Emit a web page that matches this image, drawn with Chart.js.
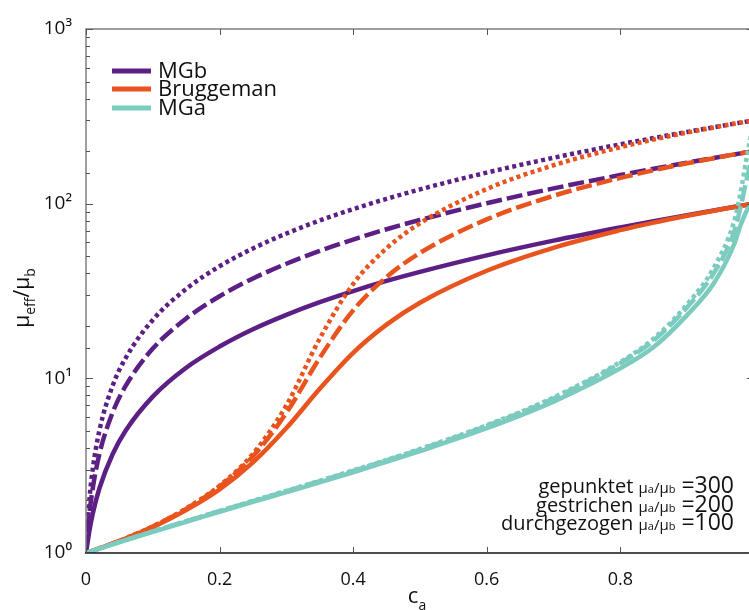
<!DOCTYPE html>
<html>
<head>
<meta charset="utf-8">
<script src="https://cdn.jsdelivr.net/npm/chart.js@4/dist/chart.umd.min.js"></script>
<style>
  html, body { margin: 0; padding: 0; overflow: hidden; background: #fff; }
  #wrap { width: 767px; height: 610px; }
</style>
</head>
<body>
<div id="wrap"><canvas id="effChart"></canvas></div>
<script>
// volume fraction c_a
const cValues = [0, 0.005, 0.01, 0.02, 0.04, 0.06, 0.1, 0.15, 0.2, 0.25, 0.3, 0.35, 0.4, 0.45, 0.5,
                 0.6, 0.7, 0.8, 0.85, 0.9, 0.94, 0.97, 0.98, 0.99, 1];

// MGb
const mgb300 = [1, 2.0, 3.0, 5.02, 9.09, 13.2, 21.6, 32.5, 43.8, 55.4, 67.5, 80.1, 93.1, 106.6, 120.7,
                150.6, 183.1, 218.6, 237.5, 257.4, 273.9, 286.8, 291.1, 295.5, 300];
const mgb200 = [1, 1.67, 2.33, 3.68, 6.39, 9.14, 14.8, 22.0, 29.5, 37.3, 45.3, 53.7, 62.3, 71.4, 80.7,
                100.6, 122.3, 145.8, 158.4, 171.6, 182.7, 191.2, 194.1, 197.0, 200];
const mgb100 = [1, 1.33, 1.67, 2.34, 3.69, 5.06, 7.86, 11.5, 15.2, 19.1, 23.1, 27.3, 31.6, 36.1, 40.7,
                50.6, 61.4, 73.1, 79.4, 85.9, 91.4, 95.6, 97.1, 98.5, 100];

// Bruggeman
const brg300 = [1, 1.015, 1.03, 1.063, 1.135, 1.218, 1.42, 1.80, 2.43, 3.70, 7.0, 16.9, 34.7, 55.5, 77.2,
                121.3, 165.9, 210.5, 232.9, 255.2, 273.1, 286.6, 291.1, 295.5, 300];
const brg200 = [1, 1.015, 1.03, 1.063, 1.135, 1.215, 1.42, 1.79, 2.40, 3.58, 6.34, 13.1, 24.5, 38.0, 52.2,
                81.3, 110.9, 140.5, 155.4, 170.2, 182.1, 191.1, 194.1, 197.0, 200];
const brg100 = [1, 1.015, 1.03, 1.062, 1.132, 1.21, 1.405, 1.76, 2.31, 3.30, 5.19, 8.71, 14.0, 20.3, 27.1,
                41.3, 55.9, 70.5, 77.9, 85.2, 91.1, 95.6, 97.1, 98.5, 100];

// MGa
const mga300 = [1, 1.015, 1.03, 1.061, 1.124, 1.189, 1.33, 1.52, 1.74, 1.99, 2.27, 2.59, 2.97, 3.41, 3.94,
                5.39, 7.77, 12.4, 16.9, 26.5, 43, 78, 115, 190, 300];
const mga200 = [1, 1.015, 1.03, 1.06, 1.123, 1.188, 1.33, 1.52, 1.74, 1.98, 2.26, 2.58, 2.95, 3.39, 3.91,
                5.34, 7.67, 12.2, 16.5, 25.5, 40, 68, 95, 142, 200];
const mga100 = [1, 1.015, 1.029, 1.059, 1.121, 1.186, 1.32, 1.51, 1.72, 1.96, 2.23, 2.54, 2.90, 3.33, 3.83,
                5.18, 7.36, 11.4, 15.1, 23, 35, 58, 75, 92, 100];

const xTickLabels = ["0", "0.2", "0.4", "0.6", "0.8", "1"];
const yTickLabels = ["10\u2070", "10\u00b9", "10\u00b2", "10\u00b3"];
const legendNames = ["MGb", "Bruggeman", "MGa"];
const noteLines = [["gepunktet ", "=300"], ["gestrichen ", "=200"], ["durchgezogen ", "=100"]];

const purple = "#5c1f85";
const orange = "#e9531d";
const teal = "#7ccbbf";
const FONT = "'Open Sans', 'DejaVu Sans', sans-serif";

const dotted = [4, 3.4];
const dashed = [16, 5];

function pts(values) {
  return cValues.map(function (c, i) { return { x: c, y: values[i] }; });
}

function line(values, color, dash) {
  return {
    data: pts(values),
    borderColor: color,
    borderWidth: 4.5,
    borderDash: dash,
    borderCapStyle: "butt",
    pointRadius: 0,
    fill: false,
    cubicInterpolationMode: "monotone"
  };
}

// first dataset is drawn on top
const datasets = [
  line(mga100, teal, []),
  line(mga200, teal, dashed),
  line(mga300, teal, dotted),
  line(brg100, orange, []),
  line(brg200, orange, dashed),
  line(brg300, orange, dotted),
  line(mgb100, purple, []),
  line(mgb200, purple, dashed),
  line(mgb300, purple, dotted)
];

function drawRich(ctx, parts, x, y, align) {
  let total = 0;
  parts.forEach(function (p) {
    ctx.font = p.size + "px " + FONT;
    p.w = ctx.measureText(p.t).width;
    total += p.w;
  });
  let cx = align === "right" ? x - total : (align === "center" ? x - total / 2 : x);
  parts.forEach(function (p) {
    ctx.font = p.size + "px " + FONT;
    ctx.fillText(p.t, cx, y + (p.dy || 0));
    cx += p.w;
  });
}

const framePlugin = {
  id: "frame",
  afterDatasetsDraw: function (chart) {
    const ctx = chart.ctx;
    const a = chart.chartArea;
    const xs = chart.scales.x;
    const ys = chart.scales.y;
    ctx.save();
    ctx.lineWidth = 1.5;
    ctx.strokeStyle = "#808080";
    ctx.beginPath();
    ctx.moveTo(a.left, a.bottom);
    ctx.lineTo(a.left, a.top);
    ctx.lineTo(a.right, a.top);
    ctx.lineTo(a.right, a.bottom);
    ctx.stroke();
    ctx.strokeStyle = "#111";
    ctx.beginPath();
    ctx.moveTo(a.left - 1, a.bottom);
    ctx.lineTo(a.right, a.bottom);
    ctx.stroke();

    // x ticks, inward at bottom and top
    ctx.lineWidth = 1;
    ctx.strokeStyle = "#555";
    ctx.beginPath();
    xs.ticks.forEach(function (t) {
      const px = Math.round(xs.getPixelForValue(t.value)) + 0.5;
      ctx.moveTo(px, a.bottom);
      ctx.lineTo(px, a.bottom - 6);
      ctx.moveTo(px, a.top);
      ctx.lineTo(px, a.top + 6);
    });
    // y ticks, major and minor, inward at left and right
    ys.ticks.forEach(function (t) {
      const e = Math.log10(t.value);
      const major = Math.abs(e - Math.round(e)) < 1e-9;
      const len = major ? 7 : 4;
      const py = Math.round(ys.getPixelForValue(t.value)) + 0.5;
      ctx.moveTo(a.left, py);
      ctx.lineTo(a.left + len, py);
      ctx.moveTo(a.right, py);
      ctx.lineTo(a.right - len, py);
    });
    ctx.stroke();
    ctx.restore();
  },
  afterDraw: function (chart) {
    const ctx = chart.ctx;
    ctx.save();

    // legend
    const colors = [purple, orange, teal];
    const rowsY = [71, 89, 108];
    ctx.lineWidth = 5;
    ctx.textBaseline = "middle";
    ctx.fillStyle = "#111";
    legendNames.forEach(function (name, i) {
      ctx.strokeStyle = colors[i];
      ctx.beginPath();
      ctx.moveTo(112, rowsY[i]);
      ctx.lineTo(151, rowsY[i]);
      ctx.stroke();
      ctx.font = "22px " + FONT;
      ctx.fillText(name, 158, rowsY[i] + 1);
    });

    // notes bottom right
    ctx.textBaseline = "alphabetic";
    const noteY = [493, 512, 530];
    noteLines.forEach(function (n, i) {
      drawRich(ctx, [
        { t: n[0], size: 20 },
        { t: "\u03bc", size: 15 },
        { t: "a", size: 11 },
        { t: "/\u03bc", size: 15 },
        { t: "b", size: 11 },
        { t: " " + n[1], size: 23 }
      ], 734, noteY[i], "right");
    });

    // x title
    drawRich(ctx, [{ t: "c", size: 22 }, { t: "a", size: 14, dy: 7 }], 417, 603, "center");

    // y title
    ctx.translate(29, 298);
    ctx.rotate(-Math.PI / 2);
    drawRich(ctx, [
      { t: "\u03bc", size: 21 },
      { t: "eff", size: 14, dy: 6 },
      { t: "/\u03bc", size: 21 },
      { t: "b", size: 14, dy: 6 }
    ], 0, 0, "center");
    ctx.restore();
  }
};

const ctx = document.getElementById("effChart").getContext("2d");
const chart = new Chart(ctx, {
  type: "line",
  data: { datasets: datasets },
  plugins: [framePlugin],
  options: {
    responsive: true,
    maintainAspectRatio: false,
    animation: false,
    layout: { padding: { top: 29, right: 1, left: 0, bottom: 0 } },
    plugins: { legend: { display: false }, tooltip: { enabled: false } },
    scales: {
      x: {
        type: "linear",
        min: 0,
        max: 1,
        grid: { display: false },
        border: { display: false },
        ticks: {
          stepSize: 0.2,
          padding: 8,
          color: "#111",
          font: { family: FONT, size: 18 },
          maxRotation: 0,
          callback: function (value, index) { return xTickLabels[index]; }
        },
        afterFit: function (scale) { scale.height = 57; }
      },
      y: {
        type: "logarithmic",
        min: 1,
        max: 1000,
        grid: { display: false },
        border: { display: false },
        ticks: {
          autoSkip: false,
          padding: 6,
          color: "#111",
          font: { family: FONT, size: 19 },
          callback: function (value) {
            const e = Math.log10(value);
            if (Math.abs(e - Math.round(e)) < 1e-9) return yTickLabels[Math.round(e)];
            return "";
          }
        },
        afterFit: function (scale) { scale.width = 86; }
      }
    }
  }
});
</script>
</body>
</html>
